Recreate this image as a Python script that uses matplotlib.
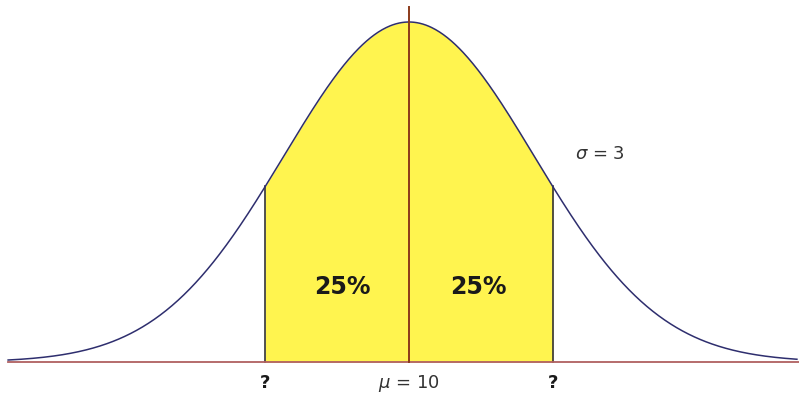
import numpy as np
import matplotlib
matplotlib.use("Agg")
import matplotlib.pyplot as plt

# Data
mu = 10.0
sigma = 3.0
x_start, x_end = 0.38, 19.31
shade_lo, shade_hi = 6.55, 13.45
region_labels = ["25%", "25%"]
bound_labels = ["?", "?"]
mean_label = r"$\mu$ = 10"
sigma_label = r"$\sigma$ = 3"

def pdf(x):
    return np.exp(-0.5 * ((x - mu) / sigma) ** 2) / (sigma * np.sqrt(2 * np.pi))

pmax = pdf(mu)
fig = plt.figure(figsize=(7.99, 4.03), dpi=100)
ax = fig.add_axes([0, 0, 1, 1])
ax.set_xlim(0.185, 19.36)
ax.set_ylim(-41 * pmax / 340, pmax * (1 + 22 / 340))
ax.axis("off")

xs = np.linspace(x_start, x_end, 800)
xf = np.linspace(shade_lo, shade_hi, 400)
ax.fill_between(xf, 0, pdf(xf), color="#FFF44F", lw=0, zorder=1)
ax.plot([shade_lo, shade_lo], [0, pdf(shade_lo)], color="#333333", lw=1.2, zorder=2)
ax.plot([shade_hi, shade_hi], [0, pdf(shade_hi)], color="#333333", lw=1.2, zorder=2)
ax.plot(xs, pdf(xs), color="#2E2E6E", lw=1.1, zorder=3)
ax.plot([x_start, 19.36], [0, 0], color="#B06060", lw=1.3, zorder=2)
ax.plot([mu, mu], [0, pmax * (1 + 15 / 340)], color="#8B3A1A", lw=1.4, zorder=4)

ax.text((shade_lo + mu) / 2 + 0.12, pmax * 0.22, region_labels[0], ha="center", va="center",
        fontsize=17, fontweight="bold", color="#1a1a1a")
ax.text((shade_hi + mu) / 2 - 0.05, pmax * 0.22, region_labels[1], ha="center", va="center",
        fontsize=17, fontweight="bold", color="#1a1a1a")
ybl = -21 * pmax / 340
ax.text(shade_lo, ybl, bound_labels[0], ha="center", va="center", fontsize=13,
        fontweight="bold", color="#1a1a1a")
ax.text(shade_hi, ybl, bound_labels[1], ha="center", va="center", fontsize=13,
        fontweight="bold", color="#1a1a1a")
ax.text(mu, ybl, mean_label, ha="center", va="center", fontsize=13, color="#333333")
ax.text(mu + (600 - 409) / 41.67, pmax * (362 - 154) / 340, sigma_label, ha="center",
        va="center", fontsize=13, color="#333333")

fig.savefig("out.png", dpi=100)
